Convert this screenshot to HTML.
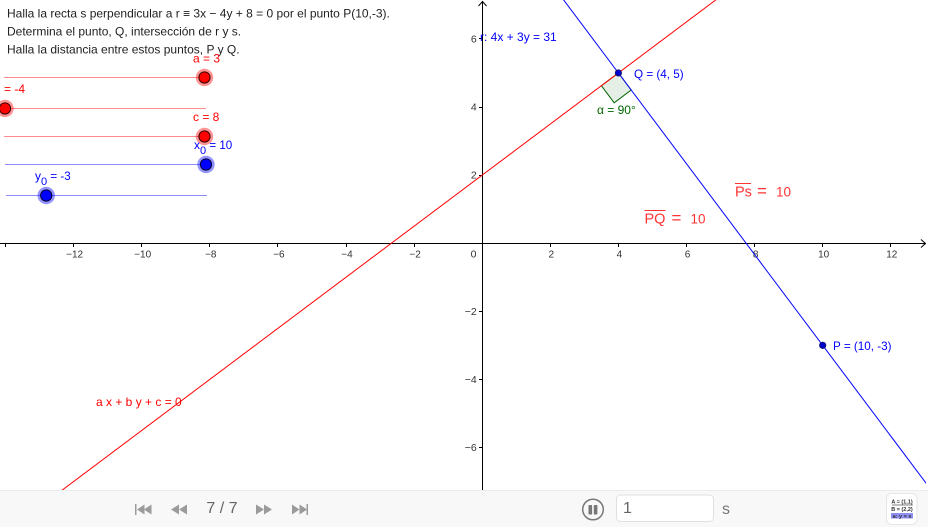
<!DOCTYPE html>
<html lang="es">
<head>
<meta charset="utf-8">
<title>Recta perpendicular</title>
<style>
html,body{margin:0;padding:0;background:#fff;}
#stage{position:relative;width:928px;height:527px;overflow:hidden;background:#fff;font-family:"Liberation Sans",sans-serif;}
svg{position:absolute;left:0;top:0;}
text{font-family:"Liberation Sans",sans-serif;}
</style>
</head>
<body>
<div id="stage">
<svg id="plot" width="928" height="527" viewBox="0 0 928 527"></svg>
</div>
<script>
const xTicks = [-14, -12, -10, -8, -6, -4, -2, 2, 4, 6, 8, 10, 12];
const yTicks = [-6, -4, -2, 2, 4, 6];
const lineR = [3, -4, 8];
const lineS = [4, 3, -31];
const pointP = [10, -3];
const pointQ = [4, 5];
const sliderA = [3, -3, 3];
const sliderB = [-4, -4, 4];
const sliderC = [8, -8, 8];
const sliderX0 = [10, -10, 10];
const sliderY0 = [-3, -5, 5];
const rightAngleSize = [0.625];

const NS = 'http://www.w3.org/2000/svg';
const svg = document.getElementById('plot');
const unit = 34.05, ox = 482.2, oy = 243.2;
const graphH = 490, graphW = 926;
function sx(v) { return ox + v * unit; }
function sy(v) { return oy - v * unit; }
function vx(p) { return (p - ox) / unit; }
function crisp(p) { return Math.floor(p) + 0.5; }
function make(tag, attrs, parent) {
  const el = document.createElementNS(NS, tag);
  for (const k in attrs) el.setAttribute(k, attrs[k]);
  (parent || svg).appendChild(el);
  return el;
}
function label(str, x, y, size, fill, anchor, parent) {
  const t = make('text', { x: x, y: y, 'font-size': size, fill: fill, 'text-anchor': anchor || 'start' }, parent);
  t.textContent = str;
  return t;
}
function fmt(v) { return v < 0 ? '\u2212' + Math.abs(v) : String(v); }

// clip
const defs = make('defs', {});
const clip = make('clipPath', { id: 'graph-clip' }, defs);
make('rect', { x: 0, y: 0, width: graphW, height: graphH }, clip);
const gGraph = make('g', { 'clip-path': 'url(#graph-clip)' });



// axes
const axX = crisp(ox), axY = crisp(oy);
const xAxis = make('line', { x1: 0, y1: axY, x2: 925.5, y2: axY, stroke: '#000', 'stroke-width': 1 }, gGraph);


const yAxis = make('line', { x1: axX, y1: 1, x2: axX, y2: graphH, stroke: '#000', 'stroke-width': 1 }, gGraph);


const xArrow = make('path', { d: 'M921 ' + (axY - 4) + ' L925.5 ' + axY + ' L921 ' + (axY + 4), fill: 'none', stroke: '#000', 'stroke-width': 1 }, gGraph);


const yArrow = make('path', { d: 'M' + (axX - 4) + ' 6 L' + axX + ' 1.5 L' + (axX + 4) + ' 6', fill: 'none', stroke: '#000', 'stroke-width': 1 }, gGraph);



xTicks.forEach(function (v) {
  const tx = crisp(sx(v));
  const tick = make('line', { x1: tx, y1: axY, x2: tx, y2: axY + 3.5, stroke: '#000', 'stroke-width': 1 }, gGraph);
  
  
  if (v > -14) {
    const t = label(fmt(v), sx(v) + 1, oy + 14.5, 10, '#333', 'middle', gGraph);
    
    
  }
});
yTicks.forEach(function (v) {
  const ty = crisp(sy(v));
  const tick = make('line', { x1: axX - 3.5, y1: ty, x2: axX, y2: ty, stroke: '#000', 'stroke-width': 1 }, gGraph);
  
  
  const t = label(fmt(v), ox - 5.5, sy(v) + 3.5, 10.5, '#333', 'end', gGraph);
  
  
});
const originLabel = label('0', 476.5, oy + 14.5, 10.5, '#333', 'end', gGraph);



// lines from coefficients A x + B y + C = 0
function yAt(coef, x) {
  return -(coef[0] * x + coef[2]) / coef[1];
}
function drawLine(coef, color, name) {
  const xa = vx(-5), xb = vx(graphW + 5);
  const el = make('line', { x1: sx(xa), y1: sy(yAt(coef, xa)), x2: sx(xb), y2: sy(yAt(coef, xb)), stroke: color, 'stroke-width': 1 }, gGraph);
  
  
  return el;
}

// right-angle marker
(function () {
  const s = rightAngleSize[0];
  const d1 = [-0.8 * s, -0.6 * s];
  const d2 = [0.6 * s, -0.8 * s];
  const Q = pointQ;
  const pts = [Q, [Q[0] + d1[0], Q[1] + d1[1]], [Q[0] + d1[0] + d2[0], Q[1] + d1[1] + d2[1]], [Q[0] + d2[0], Q[1] + d2[1]]];
  const el = make('polygon', {
    points: pts.map(function (p) { return sx(p[0]) + ',' + sy(p[1]); }).join(' '),
    fill: 'rgba(0,100,0,0.1)', stroke: '#006400', 'stroke-width': 1
  }, gGraph);
  
  
})();

drawLine(lineR, '#ff0000', 'line-r');
drawLine(lineS, '#0000ff', 'line-s');

function drawPoint(p, name) {
  const el = make('circle', { cx: sx(p[0]), cy: sy(p[1]), r: 3.2, fill: '#0000cc', stroke: '#1a1a66', 'stroke-width': 0.8 }, gGraph);
  
  
}
drawPoint(pointP, 'point-p');
drawPoint(pointQ, 'point-q');

function note(str, x, y, size, color, name) {
  const t = label(str, x, y, size, color, 'start', gGraph);
  
  
  return t;
}
note('Q = (' + pointQ[0] + ', ' + pointQ[1] + ')', 634, 78, 11.7, '#0000ff', 'point-q-label');
note('P = (' + pointP[0] + ', ' + pointP[1] + ')', 833, 350, 11.7, '#0000ff', 'point-p-label');
note('\u03b1 = 90\u00b0', 597, 114, 12, '#006400', 'angle-label');
note('r: 4x + 3y = 31', 480, 41, 12, '#0000ff', 'line-s-equation');
note('a x + b y + c = 0', 96, 406, 12, '#ff0000', 'line-r-equation');

function segLabel(name, text, x, y, barW) {
  const g = make('g', {}, gGraph);
  
  
  label(text, x, y, 14.5, '#ff3333', 'start', g);
  label('=', x + barW + 6, y, 17, '#ff3333', 'start', g);
  label('10', x + barW + 25, y, 13.5, '#ff3333', 'start', g);
  make('line', { x1: x, y1: y - 13, x2: x + barW, y2: y - 13, stroke: '#ff3333', 'stroke-width': 1 }, g);
}
segLabel('distance-pq-label', 'PQ', 644.5, 223.5, 21);
segLabel('distance-ps-label', 'Ps', 735, 196.5, 16);

// problem text
[['Halla la recta s perpendicular a r \u2261 3x \u2212 4y + 8 = 0 por el punto P(10,-3).', 17.5],
 ['Determina el punto, Q, intersecci\u00f3n de r y s.', 35.5],
 ['Halla la distancia entre estos puntos, P y Q.', 53.5]].forEach(function (row, i) {
  const t = label(row[0], 7, row[1], 12, '#222', 'start');
  
  
});

// sliders
function drawSlider(name, cfg, x1, x2, y, fill, dark, labelText, lx, ly, sub, subAfter) {
  const g = make('g', {});
  
  
  make('line', { x1: x1, y1: y, x2: x2, y2: y, stroke: fill, 'stroke-opacity': 0.45, 'stroke-width': 1 }, g);
  const hx = x1 + (cfg[0] - cfg[1]) / (cfg[2] - cfg[1]) * (x2 - x1);
  make('circle', { cx: hx, cy: y, r: 8.7, fill: fill, 'fill-opacity': 0.42 }, g);
  make('circle', { cx: hx, cy: y, r: 5.6, fill: fill, stroke: dark, 'stroke-width': 1 }, g);
  const t = label(labelText, lx, ly, 12, fill, 'start', g);
  if (sub) {
    const s = make('tspan', { dy: 5, 'font-size': 11 }, t);
    s.textContent = sub;
    const a = make('tspan', { dy: -5, 'font-size': 11.6 }, t);
    a.textContent = subAfter;
  }
}
drawSlider('slider-a', sliderA, 4, 204.5, 77.5, '#ff0000', '#330000', 'a = ' + sliderA[0], 193, 62.5);
drawSlider('slider-b', sliderB, 5, 206, 108.5, '#ff0000', '#330000', '= ' + sliderB[0], 4, 93);
drawSlider('slider-c', sliderC, 4, 204.5, 136.5, '#ff0000', '#330000', 'c = ' + sliderC[0], 193, 121);
drawSlider('slider-x0', sliderX0, 5, 206, 164.5, '#0000ff', '#000033', 'x', 194, 149, '0', ' = ' + sliderX0[0]);
drawSlider('slider-y0', sliderY0, 6, 207, 195.5, '#0000ff', '#000033', 'y', 35, 180, '0', ' = ' + sliderY0[0]);

// bottom toolbar
const bar = make('g', {});


make('rect', { x: 0, y: 490, width: 928, height: 37, fill: '#f8f8f8' }, bar);
make('rect', { x: 0, y: 490, width: 928, height: 1, fill: '#ececec' }, bar);

function navButton(name, d) {
  const p = make('path', { d: d, fill: '#9b9b9b' }, bar);
  
  
}
navButton('first-step-button', 'M135 504h1.5v11H135z M137 509.5l7.5-5v10z M144 509.5l7.5-5v10z');
navButton('previous-step-button', 'M171 509.5l8-5v10z M179 509.5l8-5v10z');
navButton('next-step-button', 'M256 504.5l8 5-8 5z M264 504.5l8 5-8 5z');
navButton('last-step-button', 'M292 504.5l7.5 5-7.5 5z M299.5 504.5l7.5 5-7.5 5z M306.5 504h1.5v11h-1.5z');
const stepLabel = label('7 / 7', 222, 513, 16, '#666', 'middle', bar);



const pause = make('g', {}, bar);


make('circle', { cx: 593, cy: 509.5, r: 10.3, fill: 'none', stroke: '#777', 'stroke-width': 1.5 }, pause);
make('rect', { x: 588.5, y: 505, width: 3.6, height: 9.5, rx: 0.8, fill: '#777' }, pause);
make('rect', { x: 593.8, y: 505, width: 3.6, height: 9.5, rx: 0.8, fill: '#777' }, pause);

const speed = make('g', {}, bar);


make('rect', { x: 616.5, y: 495, width: 97, height: 26.5, rx: 4, fill: '#fff', stroke: '#e0e0e0', 'stroke-width': 1 }, speed);
label('1', 623, 513, 16, '#666', 'start', speed);
const unitLabel = label('s', 722, 514, 16, '#777', 'start', bar);



const algebra = make('g', {}, bar);


make('rect', { x: 886.5, y: 493.5, width: 30.5, height: 31, rx: 5, fill: '#fff', stroke: '#e6e6e6', 'stroke-width': 1 }, algebra);
const algA = label('A = (1,1)', 902, 503.5, 5.5, '#333', 'middle', algebra);
algA.setAttribute('font-weight', 'bold');
make('line', { x1: 892, y1: 505, x2: 913, y2: 505, stroke: '#555', 'stroke-width': 0.7 }, algebra);
const algB = label('B = (2,2)', 902, 511, 5.5, '#333', 'middle', algebra);
algB.setAttribute('font-weight', 'bold');
make('rect', { x: 891, y: 513, width: 22, height: 5.5, fill: '#8f8ff2' }, algebra);
const algC = label('a: y = x', 902, 517.8, 5.5, '#333', 'middle', algebra);
algC.setAttribute('font-weight', 'bold');
</script>
</body>
</html>
